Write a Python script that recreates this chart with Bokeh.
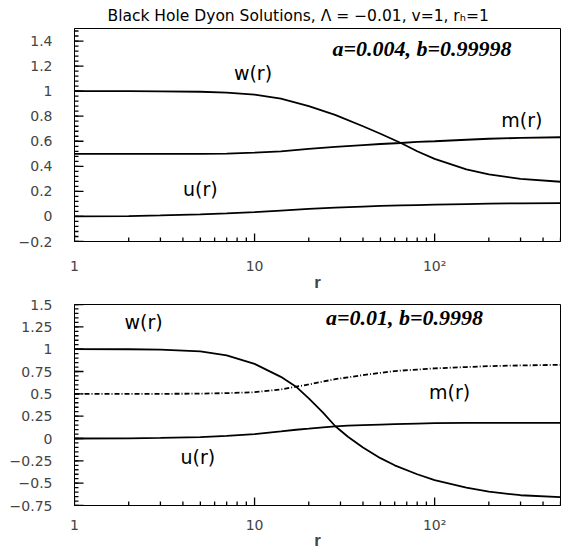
from bokeh.plotting import figure
from bokeh.layouts import column
from bokeh.models import Range1d, FixedTicker, Label
from bokeh.embed import file_html
from bokeh.resources import INLINE
import numpy as np

TITLE = "Black Hole Dyon Solutions, \u039b = \u22120.01, v=1, r\u2095=1"

# ---- panel 1: a=0.004, b=0.99998 ----
r_top = [1, 2, 3, 5, 7, 10, 14, 20, 28, 40, 50, 65, 80, 100, 150, 200, 300, 500]
w_top = [1.0, 1.0, 0.998, 0.995, 0.988, 0.972, 0.94, 0.88, 0.81, 0.72, 0.66, 0.586, 0.52, 0.46, 0.375, 0.335, 0.30, 0.277]
m_top = [0.5, 0.5, 0.5, 0.5, 0.502, 0.51, 0.52, 0.54, 0.555, 0.57, 0.578, 0.586, 0.595, 0.60, 0.612, 0.62, 0.627, 0.632]
u_top = [0.0, 0.003, 0.008, 0.017, 0.025, 0.035, 0.047, 0.06, 0.07, 0.079, 0.084, 0.088, 0.091, 0.094, 0.099, 0.102, 0.105, 0.107]

# ---- panel 2: a=0.01, b=0.9998 ----
r_bot = [1, 2, 3, 5, 7, 10, 14, 17, 20, 24, 28, 33, 40, 50, 60, 80, 100, 150, 200, 300, 500]
w_bot = [1.0, 0.999, 0.995, 0.975, 0.93, 0.835, 0.69, 0.58, 0.45, 0.29, 0.14, 0.02, -0.10, -0.22, -0.30, -0.40, -0.467, -0.55, -0.595, -0.635, -0.657]
m_bot = [0.5, 0.5, 0.5, 0.502, 0.508, 0.518, 0.55, 0.58, 0.605, 0.637, 0.664, 0.685, 0.71, 0.735, 0.755, 0.772, 0.785, 0.80, 0.81, 0.818, 0.825]
u_bot = [0.0, 0.002, 0.006, 0.015, 0.03, 0.05, 0.08, 0.098, 0.11, 0.125, 0.135, 0.143, 0.15, 0.156, 0.16, 0.167, 0.171, 0.174, 0.175, 0.176, 0.176]

# tick labels
x_major = [1, 10, 100]
x_labels = ["1", "10", "10\u00b2"]
y_ticks_top = [-0.2, 0, 0.2, 0.4, 0.6, 0.8, 1, 1.2, 1.4]
y_labels_top = ["\u22120.2", "0", "0.2", "0.4", "0.6", "0.8", "1", "1.2", "1.4"]
y_ticks_bot = [-0.75, -0.5, -0.25, 0, 0.25, 0.5, 0.75, 1, 1.25, 1.5]
y_labels_bot = ["\u22120.75", "\u22120.5", "\u22120.25", "0", "0.25", "0.5", "0.75", "1", "1.25", "1.5"]

SANS = "DejaVu Sans"
X_LO, X_HI = 1, 500
FRAME_W = 486
x_minor = [m * d for d in (1, 10, 100) for m in range(2, 10) if m * d <= X_HI]


def make_panel(frame_h, border_top, y_lo, y_hi, yticks, ylabels, minor_step,
               label_standoff, axlabel_standoff, title=None):
    kw = dict(frame_width=FRAME_W, frame_height=frame_h, x_axis_type="log",
              x_range=Range1d(X_LO, X_HI), y_range=Range1d(y_lo, y_hi),
              output_backend="svg", toolbar_location=None,
              min_border_left=74, min_border_right=9,
              min_border_top=border_top, min_border_bottom=0)
    if title:
        kw["title"] = title
    p = figure(**kw)
    if title:
        p.title.align = "left"
        p.title.offset = 33
        p.title.text_font = SANS
        p.title.text_font_size = "15.5px"
        p.title.text_font_style = "normal"
        p.title.text_color = "black"
        p.title.standoff = 8
    p.grid.visible = False
    p.outline_line_color = "black"
    p.outline_line_width = 1
    p.background_fill_color = "white"
    p.border_fill_color = "white"

    xa = p.xaxis[0]
    xa.ticker = FixedTicker(ticks=x_major)
    xa.major_label_overrides = {t: l for t, l in zip(x_major, x_labels)}
    xa.major_tick_in = 0
    xa.major_tick_out = 0
    xa.minor_tick_in = 0
    xa.minor_tick_out = 0
    xa.major_label_standoff = label_standoff
    xa.major_label_text_font = SANS
    xa.major_label_text_font_size = "14px"
    xa.axis_label = "r"
    xa.axis_label_text_font = "Liberation Sans"
    xa.axis_label_text_font_style = "bold"
    xa.axis_label_text_font_size = "17px"
    xa.axis_label_standoff = axlabel_standoff
    xa.axis_line_color = "black"

    ya = p.yaxis[0]
    ya.ticker = FixedTicker(ticks=yticks)
    ya.major_label_overrides = {t: l for t, l in zip(yticks, ylabels)}
    ya.major_tick_in = 0
    ya.major_tick_out = 0
    ya.minor_tick_in = 0
    ya.minor_tick_out = 0
    ya.major_label_standoff = 22
    ya.major_label_text_font = SANS
    ya.major_label_text_font_size = "14px"
    ya.axis_line_color = "black"

    # inward tick marks as short segments starting on the frame edge
    px_per_decade = FRAME_W / np.log10(X_HI / X_LO)
    px_per_unit = frame_h / (y_hi - y_lo)

    def xlen(px):
        return X_LO * 10 ** (px / px_per_decade)

    y_minor = [float(v) for v in np.round(np.arange(y_lo, y_hi + 1e-9, minor_step), 4)]
    p.segment(x0=[X_LO] * len(y_minor), y0=y_minor, x1=[xlen(4)] * len(y_minor), y1=y_minor,
              line_color="black", line_width=1.3)
    p.segment(x0=[X_LO] * len(yticks), y0=yticks, x1=[xlen(9)] * len(yticks), y1=yticks,
              line_color="black", line_width=1.3)
    p.segment(x0=x_minor, y0=[y_lo] * len(x_minor), x1=x_minor,
              y1=[y_lo + 4 / px_per_unit] * len(x_minor), line_color="black", line_width=1.3)
    p.segment(x0=x_major, y0=[y_lo] * len(x_major), x1=x_major,
              y1=[y_lo + 8 / px_per_unit] * len(x_major), line_color="black", line_width=1.3)
    return p


def add_label(p, x, y, text, serif=False):
    if serif:
        lab = Label(x=x, y=y, text=text, text_font="Liberation Serif",
                    text_font_style="bold italic", text_font_size="22px",
                    text_align="center", text_baseline="middle", text_color="black")
    else:
        lab = Label(x=x, y=y, text=text, text_font=SANS, text_font_size="19px",
                    text_align="center", text_baseline="middle", text_color="black")
    p.add_layout(lab)


p1 = make_panel(213, 27, -0.2, 1.5, y_ticks_top, y_labels_top, 0.04, 16, -4, title=TITLE)
p1.line(r_top, w_top, line_color="black", line_width=1.8)
p1.line(r_top, m_top, line_color="black", line_width=1.8)
p1.line(r_top, u_top, line_color="black", line_width=1.8)
add_label(p1, 9.8, 1.144, "w(r)")
add_label(p1, 305, 0.768, "m(r)")
add_label(p1, 5.0, 0.216, "u(r)")
add_label(p1, 85, 1.344, "a=0.004, b=0.99998", serif=True)

p2 = make_panel(201, 10, -0.75, 1.5, y_ticks_bot, y_labels_bot, 0.05, 11, -5)
p2.line(r_bot, w_bot, line_color="black", line_width=1.8)
p2.line(r_bot, m_bot, line_color="black", line_width=1.8, line_dash="5 2 1 2")
p2.line(r_bot, u_bot, line_color="black", line_width=1.8)
add_label(p2, 2.42, 1.303, "w(r)")
add_label(p2, 121, 0.515, "m(r)")
add_label(p2, 4.84, -0.208, "u(r)")
add_label(p2, 68, 1.358, "a=0.01, b=0.9998", serif=True)

layout = column(p1, p2, spacing=0)
open("out.html", "w").write(file_html(layout, INLINE))
